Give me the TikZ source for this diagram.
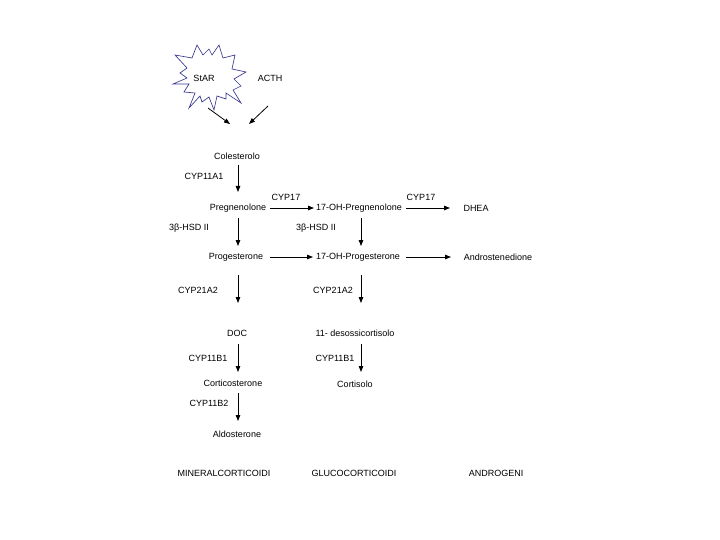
\documentclass[tikz,border=0pt]{standalone}
\usepackage{fontspec}
\setmainfont{Liberation Sans}
\usetikzlibrary{arrows.meta}
\definecolor{starblue}{RGB}{55,55,145}
\begin{document}
\begin{tikzpicture}[x=1pt,y=-1pt,
  lbl/.style={font=\fontsize{9}{10}\selectfont, inner sep=2pt},
  arr/.style={line width=0.8pt, -{Triangle[length=6pt,width=4.5pt]}},
  starline/.style={draw=starblue, line width=0.65pt, line join=miter}]
\useasboundingbox (0,0) rectangle (720,540);
\coordinate (star) at (211,78);
\begin{scope}[shift={(star)}]
\draw[starline] (-36,-23) -- (-19,-20) -- (-14,-33) -- (-8,-23) -- (-2,-29) -- (1,-23)
  -- (8,-33) -- (12,-20) -- (24,-23) -- (21,-9) -- (35,-6) -- (23,1) -- (30,8) -- (22,12)
  -- (30,25) -- (15,15) -- (15,21) -- (6,18) -- (3,32) -- (-2,19) -- (-9,24) -- (-11,18)
  -- (-22,30) -- (-16,15) -- (-27,14) -- (-22,6) -- (-38,6) -- (-24,0) -- (-31,-5) -- (-24,-10) -- cycle;
\end{scope}
\node[lbl] (starlbl) at (204,78) {StAR};
\node[lbl] (acth) at (270,78) {ACTH};
\node[lbl] (col) at (237,156) {Colesterolo};
\node[lbl] (preg) at (238,208) {Pregnenolone};
\node[lbl] (ohpreg) at (359,208) {17-OH-Pregnenolone};
\node[lbl] (dhea) at (476,208) {DHEA};
\node[lbl] (prog) at (236,257) {Progesterone};
\node[lbl] (ohprog) at (358,257) {17-OH-Progesterone};
\node[lbl] (andro) at (498,257) {Androstenedione};
\node[lbl] (doc) at (237,333) {DOC};
\node[lbl] (deso) at (355,333) {11- desossicortisolo};
\node[lbl] (cortico) at (233,383) {Corticosterone};
\node[lbl] (cortisolo) at (355,384) {Cortisolo};
\node[lbl] (aldo) at (237,434) {Aldosterone};
% enzyme labels
\node[lbl] (e1) at (204,176) {CYP11A1};
\node[lbl] (e2) at (286,197) {CYP17};
\node[lbl] (e3) at (421,197) {CYP17};
\node[lbl] (e4) at (189,228) {3β-HSD II};
\node[lbl] (e5) at (316,228) {3β-HSD II};
\node[lbl] (e6) at (198,290) {CYP21A2};
\node[lbl] (e7) at (333,290) {CYP21A2};
\node[lbl] (e8) at (208,358) {CYP11B1};
\node[lbl] (e9) at (335,358) {CYP11B1};
\node[lbl] (e10) at (209,403) {CYP11B2};
% class labels
\node[lbl] (min) at (224,473) {MINERALCORTICOIDI};
\node[lbl] (glu) at (354,473) {GLUCOCORTICOIDI};
\node[lbl] (andg) at (496,473) {ANDROGENI};
% arrows
\draw[arr] ([shift={(-3,30)}]star) -- ([shift={(-7,-32)}]col.center);
\draw[arr] ([shift={(-2,28)}]acth.center) -- ([shift={(12,-32)}]col.center);
\draw[arr] ([shift={(1,9)}]col.center) -- ([shift={(0,-16)}]preg.center);
\draw[arr] ([shift={(0,10)}]preg.center) -- ([shift={(2,-11)}]prog.center);
\draw[arr] ([shift={(32,0)}]preg.center) -- ([shift={(-45,0)}]ohpreg.center);
\draw[arr] ([shift={(47,0)}]ohpreg.center) -- ([shift={(-26,0)}]dhea.center);
\draw[arr] ([shift={(34,0)}]prog.center) -- ([shift={(-45,0)}]ohprog.center);
\draw[arr] ([shift={(48,0)}]ohprog.center) -- ([shift={(-47,0)}]andro.center);
\draw[arr] ([shift={(2,10)}]ohpreg.center) -- ([shift={(3,-11)}]ohprog.center);
\draw[arr] ([shift={(2,18)}]prog.center) -- ([shift={(1,-30)}]doc.center);
\draw[arr] ([shift={(3,18)}]ohprog.center) -- ([shift={(6,-30)}]deso.center);
\draw[arr] ([shift={(1,11)}]doc.center) -- ([shift={(5,-11)}]cortico.center);
\draw[arr] ([shift={(6,11)}]deso.center) -- ([shift={(6,-12)}]cortisolo.center);
\draw[arr] ([shift={(5,10)}]cortico.center) -- ([shift={(1,-13)}]aldo.center);
\end{tikzpicture}
\end{document}
